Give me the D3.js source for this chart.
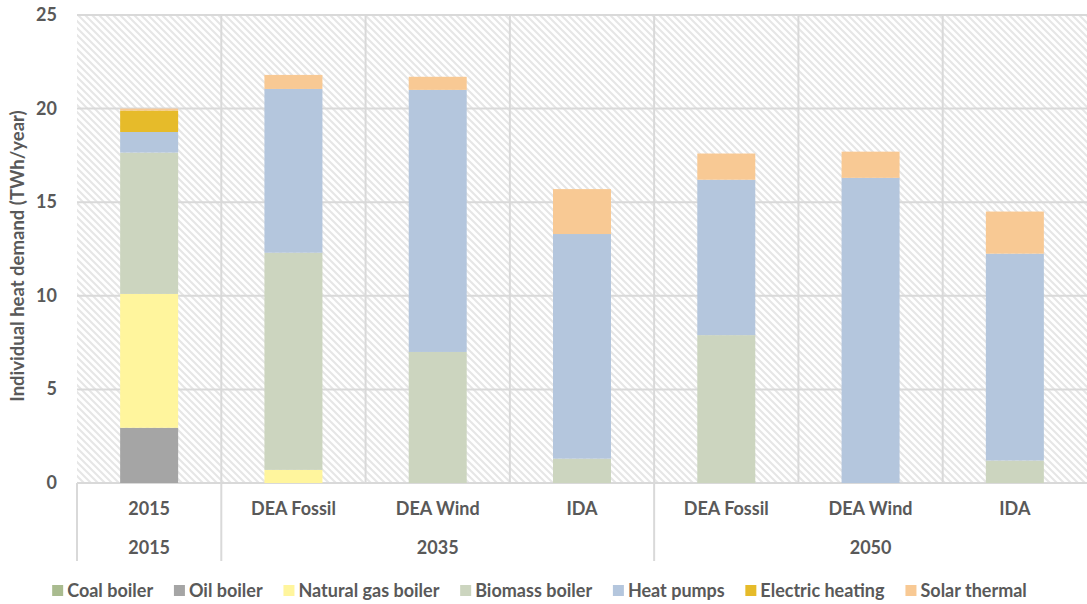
<!DOCTYPE html>
<html><head><meta charset="utf-8">
<script src="https://cdn.jsdelivr.net/npm/d3@7"></script>
<style>
body{margin:0;background:#fff;}
svg text{font-family:Lato,"Open Sans",sans-serif;font-weight:bold;fill:#595959;}
</style></head>
<body><svg id="c" width="1087" height="604"></svg>
<script>
const categories = ["2015","DEA Fossil","DEA Wind","IDA","DEA Fossil","DEA Wind","IDA"];
const groups = [{name:"2015",n:1},{name:"2035",n:3},{name:"2050",n:3}];
const seriesNames = ["Coal boiler","Oil boiler","Natural gas boiler","Biomass boiler","Heat pumps","Electric heating","Solar thermal"];
const colors = ["#a9bb8f","#a5a5a5","#fff59d","#ccd5bf","#b4c6dd","#e6bb2a","#f8c994"];
const coal    = [0,0,0,0,0,0,0];
const oil     = [2.95,0,0,0,0,0,0];
const gas     = [7.15,0.7,0,0,0,0,0];
const biomass = [7.55,11.6,7.0,1.3,7.9,0,1.2];
const heatPumps = [1.1,8.75,14.0,12.0,8.3,16.3,11.05];
const electric  = [1.15,0,0,0,0,0,0];
const solar     = [0.1,0.75,0.7,2.4,1.4,1.4,2.25];
const yTicks = [0,5,10,15,20,25];
const yLabel = "Individual heat demand (TWh/year)";

const seriesVals = [coal,oil,gas,biomass,heatPumps,electric,solar];
const rows = categories.map((c,i)=>{const r={idx:i};seriesNames.forEach((s,j)=>r[s]=seriesVals[j][i]);return r;});
const stack = d3.stack().keys(seriesNames)(rows);

const svg = d3.select("#c");
const m = {l:77,r:1087,t:15,b:483};
const x = d3.scaleBand().domain(d3.range(categories.length)).range([m.l,m.r]).paddingInner(0).paddingOuter(0);
const y = d3.scaleLinear().domain([0,25]).range([m.b,m.t]);

// hatch pattern
const defs = svg.append("defs");
const pat = defs.append("pattern").attr("id","hatch").attr("patternUnits","userSpaceOnUse")
  .attr("width",7).attr("height",7);
pat.append("rect").attr("width",7).attr("height",7).attr("fill","#fff");
pat.append("path").attr("d","M-2,-2 L9,9 M-2,5 L2,9 M5,-2 L9,2").attr("stroke","#e6e6e6").attr("stroke-width",2);

svg.append("rect").attr("x",m.l).attr("y",m.t).attr("width",m.r-m.l).attr("height",m.b-m.t).attr("fill","url(#hatch)");

// gridlines
svg.append("g").selectAll("line").data(yTicks).join("line")
  .attr("x1",m.l).attr("x2",m.r).attr("y1",d=>y(d)).attr("y2",d=>y(d))
  .attr("stroke","#d9d9d9").attr("stroke-width",2);
svg.append("g").selectAll("line").data(d3.range(1,categories.length)).join("line")
  .attr("x1",d=>x(d)).attr("x2",d=>x(d)).attr("y1",m.t).attr("y2",m.b)
  .attr("stroke","#d9d9d9").attr("stroke-width",2);

// bars
const bw = 58;
svg.append("g").selectAll("g").data(stack).join("g").attr("fill",(d,i)=>colors[i])
  .selectAll("rect").data(d=>d).join("rect")
  .attr("x",(d,i)=>x(i)+x.bandwidth()/2-bw/2).attr("width",bw)
  .attr("y",d=>y(d[1])).attr("height",d=>Math.max(0,y(d[0])-y(d[1])));

// y axis ticks
svg.append("g").selectAll("text").data(yTicks).join("text")
  .attr("x",57).attr("y",d=>y(d)+6).attr("text-anchor","end").attr("font-size",18).text(d=>d);
svg.append("text").attr("transform",`translate(24,${(m.t+m.b)/2+7}) rotate(-90)`)
  .attr("text-anchor","middle").attr("font-size",18.5).text(yLabel);

// category axis
svg.append("g").selectAll("text").data(categories).join("text")
  .attr("x",(d,i)=>x(i)+x.bandwidth()/2).attr("y",515).attr("text-anchor","middle").attr("font-size",18).text(d=>d);
let start=0; const gb=[0];
groups.forEach(g=>{
  const x0=x(start), x1=start+g.n<categories.length? x(start+g.n): m.r;
  svg.append("text").attr("x",(x0+x1)/2).attr("y",554).attr("text-anchor","middle").attr("font-size",18).text(g.name);
  start+=g.n; gb.push(start);
});
gb.filter(i=>i<categories.length).forEach(i=>{
  svg.append("line").attr("x1",x(i)).attr("x2",x(i)).attr("y1",m.b).attr("y2",561).attr("stroke","#d9d9d9").attr("stroke-width",2);
});

// legend
const lg = svg.append("g");
const items = lg.selectAll("g").data(seriesNames).join("g");
items.append("rect").attr("width",11).attr("height",11).attr("y",-12).attr("fill",(d,i)=>colors[i]);
items.append("text").attr("x",15).attr("font-size",18).text(d=>d);
let cx=0; const gap=20.5;
items.each(function(){const w=this.getBBox().width; d3.select(this).attr("transform",`translate(${cx},0)`); cx+=w+gap;});
const total=cx-gap;
lg.attr("transform",`translate(${(52+1027)/2-total/2},597)`);
</script></body></html>
